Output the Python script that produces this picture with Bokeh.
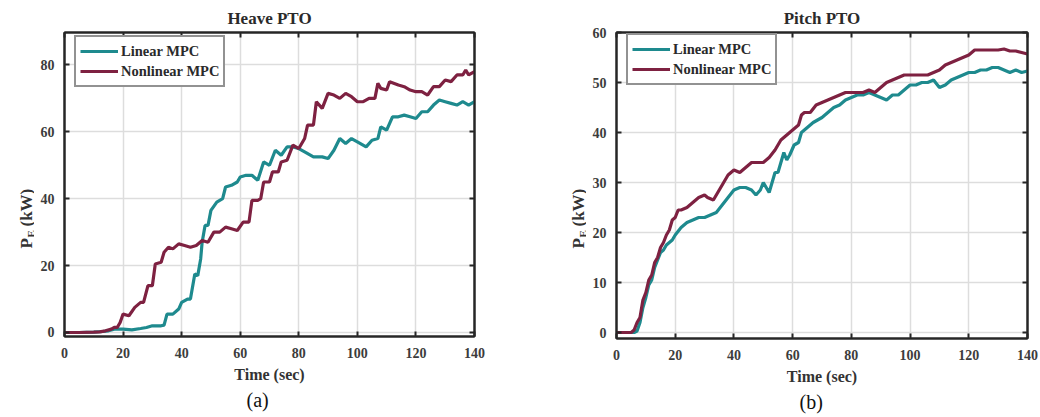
import math
from bokeh.plotting import figure
from bokeh.layouts import row
from bokeh.models import (ColumnDataSource, Range1d, LinearAxis, SingleIntervalTicker,
                          Label, Legend, LegendItem, Title, CustomJSTickFormatter)
from bokeh.embed import file_html
from bokeh.resources import INLINE

# ---------------- data ----------------
heave_lin_t = [0, 5, 10, 13, 15, 17, 20, 23, 26, 28,
               30, 33, 34, 35, 37, 39, 40, 42, 43, 44.5,
               45.5, 46.5, 47, 48, 49, 50, 52, 54, 55, 57,
               59, 60, 62, 64, 66, 68, 70, 72, 74, 76,
               78, 80, 82, 85, 88, 90, 92, 94, 96, 98,
               100, 103, 105, 107, 108, 110, 112, 114, 116, 118,
               120, 122, 124, 126, 128, 130, 132, 134, 136, 138, 140]
heave_lin = [0, 0, 0.1, 0.3, 0.5, 1, 1, 0.8, 1.2, 1.5,
             2, 2, 2.2, 5.5, 5.5, 7, 9, 10, 10, 17.5,
             17, 22, 27, 32, 32, 36.5, 39, 40, 43.5, 44,
             45, 46.5, 47, 47, 45.5, 51, 50, 54.5, 53, 55.5,
             55.5, 55, 54, 52.5, 52.5, 52, 54.5, 58, 56.5, 58,
             57, 55.5, 57.5, 58, 61.5, 60.5, 64.5, 64.5, 65, 64.5,
             64, 66, 66, 68, 69.5, 69, 68.5, 68, 69, 68, 69]

heave_nl_t = [0, 5, 10, 12, 14, 16, 17, 18, 19, 20,
              22, 24, 26, 27, 28.5, 30, 31, 33, 34, 35.5,
              37, 39, 41, 43, 45, 47, 49, 51, 53, 55,
              57, 59, 61, 63, 64, 66, 67, 68, 70, 71,
              73, 74, 76, 78, 80, 82, 83, 85, 86, 88,
              90, 92, 94, 96, 98, 100, 102, 104, 106, 107,
              108, 110, 111, 114, 116, 118, 120, 122, 124, 126,
              128, 130, 132, 134, 136, 137, 138, 140]
heave_nl = [0, 0, 0.1, 0.2, 0.5, 1, 1.5, 1.5, 3, 5.5,
            5, 7.5, 9, 9, 14, 14, 20.5, 21, 24, 25.5,
            25, 26.5, 26, 25.5, 26, 27.5, 27, 30, 30, 31.5,
            31, 30.5, 33, 33, 39.5, 39.5, 40, 45, 45, 48,
            48, 51, 51.5, 56, 55, 58, 62, 62, 69, 67,
            71.5, 71, 70, 71.5, 70.5, 69, 69, 70, 70, 74.5,
            73, 72.5, 75, 74, 73.5, 72.5, 72, 72, 71, 73.5,
            73.5, 75.5, 75, 77, 77, 78.5, 77, 78]

pitch_lin_t = [0, 6, 7, 8, 9, 10, 11, 12, 13, 14,
               15, 16, 17, 18, 19, 20, 22, 24, 26, 28,
               30, 32, 34, 36, 38, 40, 42, 44, 46, 47.5,
               49, 50, 52, 53, 54, 55, 56, 57, 58, 59,
               60.5, 62, 63, 65, 67, 70, 72, 74, 76, 78,
               80, 82, 84, 86, 88, 90, 92, 94, 96, 98,
               100, 102, 104, 106, 108, 110, 112, 114, 116, 118,
               120, 122, 124, 126, 128, 130, 132, 134, 136, 138, 140]
pitch_lin = [0, 0, 0.3, 2, 5, 7, 9.5, 10.5, 13, 14.5,
             16, 16.5, 17.5, 18, 18.5, 19.5, 21, 22, 22.5, 23,
             23, 23.5, 24, 25.5, 27, 28.5, 29, 29, 28.5, 27.5,
             28.5, 30, 28, 30, 32, 32, 34, 36, 34.5, 35.5,
             37.5, 38, 40, 41, 42, 43, 44, 45, 45.5, 46.5,
             47, 47.5, 47.5, 48, 47.5, 47, 46.5, 47.5, 47.5, 48.5,
             49.5, 49.5, 50, 50, 50.5, 49, 49.5, 50.5, 51, 51.5,
             52, 52, 52.5, 52.5, 53, 53, 52.5, 52, 52.5, 52, 52.3]

pitch_nl_t = [0, 5, 6, 7, 8, 9, 10, 11, 12, 13,
              14, 15, 16, 17, 18, 19, 20, 21, 22, 24,
              26, 28, 30, 31, 33, 35, 37, 38, 40, 42,
              44, 46, 48, 50, 52, 54, 56, 58, 60, 62,
              63, 64, 66, 68, 70, 72, 74, 76, 78, 80,
              82, 84, 86, 88, 90, 92, 94, 96, 98, 100,
              102, 104, 106, 108, 110, 112, 114, 116, 118, 120,
              122, 124, 126, 128, 130, 132, 134, 136, 138, 140]
pitch_nl = [0, 0, 0.5, 2, 3, 6.5, 8, 10.5, 11.5, 14,
            15, 17, 18, 19.5, 20.5, 22.5, 23, 24.5, 24.5, 25,
            26, 27, 27.5, 27, 26.5, 28.5, 30.5, 31.5, 32.5, 32,
            33, 34, 34, 34, 35, 36.5, 38.5, 39.5, 40.5, 41.5,
            43.5, 44, 44, 45.5, 46, 46.5, 47, 47.5, 48, 48,
            48, 48, 48.5, 48, 49, 50, 50.5, 51, 51.5, 51.5,
            51.5, 51.5, 51.5, 52, 52.5, 53.5, 54, 54.5, 55, 55.5,
            56.5, 56.5, 56.5, 56.5, 56.5, 56.7, 56.3, 56.3, 56, 55.7]

titles = ["Heave PTO", "Pitch PTO"]
captions = ["(a)", "(b)"]
series_names = ["Linear MPC", "Nonlinear MPC"]
x_label = "Time (sec)"
y_label_main = "P"
y_label_sub = "E"
y_label_unit = "(kW)"

TEAL = "#1e8a8e"
MAROON = "#7e2141"
SERIF = "Liberation Serif"
FRAME = "#262626"
TICKC = "#3c3c3c"
X_MAX = 140
Y_MIN = -1.2
H = 417


def label_strip(width, base_x):
    """Narrow canvas holding the rotated y-axis label P_E (kW)."""
    s = figure(width=width, height=H, frame_width=width, frame_height=H,
               output_backend="svg", toolbar_location=None, title_location=None,
               x_range=Range1d(0, width), y_range=Range1d(0, H),
               min_border_left=0, min_border_right=0, min_border_top=0, min_border_bottom=0,
               x_axis_location=None, y_axis_location=None,
               outline_line_color=None, background_fill_color="white",
               border_fill_color="white")
    s.xgrid.visible = False
    s.ygrid.visible = False
    common = dict(x_units="screen", y_units="screen", angle=math.pi / 2,
                  text_font=SERIF, text_font_style="bold",
                  text_color="#333333", text_align="left", text_baseline="alphabetic")
    s.add_layout(Label(x=base_x, y=H - 216, text=y_label_main, text_font_size="17px", **common))
    s.add_layout(Label(x=base_x + 4, y=H - 205, text=y_label_sub, text_font_size="11px", **common))
    s.add_layout(Label(x=base_x, y=H - 194, text=y_label_unit, text_font_size="17px", **common))
    return s


def make_panel(title, caption, lin_t, lin, nl_t, nl, y_max, y_step,
               width, border_left, frame_w, border_top, frame_h, cap_offset):
    border_bottom = H - border_top - frame_h
    p = figure(width=width, height=H, output_backend="svg", toolbar_location=None,
               x_range=Range1d(0, X_MAX), y_range=Range1d(Y_MIN, y_max),
               frame_width=frame_w, frame_height=frame_h,
               min_border_left=border_left, min_border_right=width - border_left - frame_w,
               min_border_top=border_top, min_border_bottom=border_bottom,
               background_fill_color="white", border_fill_color="white")
    p.title.text = title
    p.title.align = "center"
    p.title.text_font = SERIF
    p.title.text_font_style = "bold"
    p.title.text_font_size = "17px"
    p.title.text_color = "#2a2a2a"
    p.title.offset = 0
    p.title.standoff = 1

    p.outline_line_color = FRAME
    p.outline_line_width = 2

    xt = SingleIntervalTicker(interval=20)
    yt = SingleIntervalTicker(interval=y_step)
    p.xaxis.ticker = xt
    p.yaxis.ticker = yt
    for ax in (p.xaxis[0], p.yaxis[0]):
        ax.major_tick_in = 5
        ax.major_tick_out = 0
        ax.minor_tick_line_color = None
        ax.axis_line_width = 2
        ax.axis_line_color = FRAME
        ax.major_tick_line_color = FRAME
        ax.major_tick_line_width = 2
        ax.major_label_text_font = SERIF
        ax.major_label_text_font_style = "bold"
        ax.major_label_text_font_size = "14px"
        ax.major_label_text_color = TICKC
        ax.major_label_standoff = 7
    p.yaxis.major_label_standoff = 6
    p.xaxis.axis_label = x_label
    p.xaxis.axis_label_text_font = SERIF
    p.xaxis.axis_label_text_font_style = "bold"
    p.xaxis.axis_label_text_font_size = "16px"
    p.xaxis.axis_label_text_color = "#333333"
    p.xaxis.axis_label_standoff = 5

    blank = CustomJSTickFormatter(code="return ''")
    for loc, tk in (("above", xt), ("right", yt)):
        ax = LinearAxis(ticker=tk, major_tick_in=5, major_tick_out=0,
                        minor_tick_line_color=None, axis_line_width=2,
                        axis_line_color=FRAME, major_tick_line_color=FRAME,
                        major_tick_line_width=2, formatter=blank,
                        major_label_standoff=0)
        p.add_layout(ax, loc)

    p.xgrid.grid_line_color = "#dddddd"
    p.ygrid.grid_line_color = "#dddddd"
    p.xgrid.grid_line_width = 1.5
    p.ygrid.grid_line_width = 1.5
    p.xgrid.ticker = xt
    p.ygrid.ticker = yt

    src_l = ColumnDataSource(dict(t=lin_t, y=lin))
    src_n = ColumnDataSource(dict(t=nl_t, y=nl))
    r_l = p.line("t", "y", source=src_l, line_color=TEAL, line_width=3.2)
    r_n = p.line("t", "y", source=src_n, line_color=MAROON, line_width=3.2)

    legend = Legend(items=[LegendItem(label=series_names[0], renderers=[r_l]),
                           LegendItem(label=series_names[1], renderers=[r_n])],
                    location=(10, frame_h - 55 + (2 if border_top < 31 else 0)),
                    label_text_font=SERIF, label_text_font_style="bold",
                    label_text_font_size="14.5px", label_text_color="#2a2a2a",
                    glyph_width=38, glyph_height=20, label_height=20,
                    label_standoff=3, spacing=0, padding=4, margin=0,
                    border_line_color=FRAME, border_line_width=2,
                    background_fill_color="white", background_fill_alpha=1)
    p.add_layout(legend, "center")

    cap = Title(text=caption, align="left", text_font=SERIF, text_font_size="20px",
                text_font_style="normal", text_color="#111111", offset=cap_offset, standoff=3)
    p.add_layout(cap, "below")
    return p


s1 = label_strip(34, 26)
p1 = make_panel(titles[0], captions[0], heave_lin_t, heave_lin, heave_nl_t, heave_nl,
                89.7, 20, 486, 30, 410, 32, 304, 182)
s2 = label_strip(66, 58)
p2 = make_panel(titles[1], captions[1], pitch_lin_t, pitch_lin, pitch_nl_t, pitch_nl,
                60, 10, 454, 30, 411, 30, 306, 183)

layout = row(s1, p1, s2, p2)
open("out.html", "w").write(file_html(layout, INLINE))
